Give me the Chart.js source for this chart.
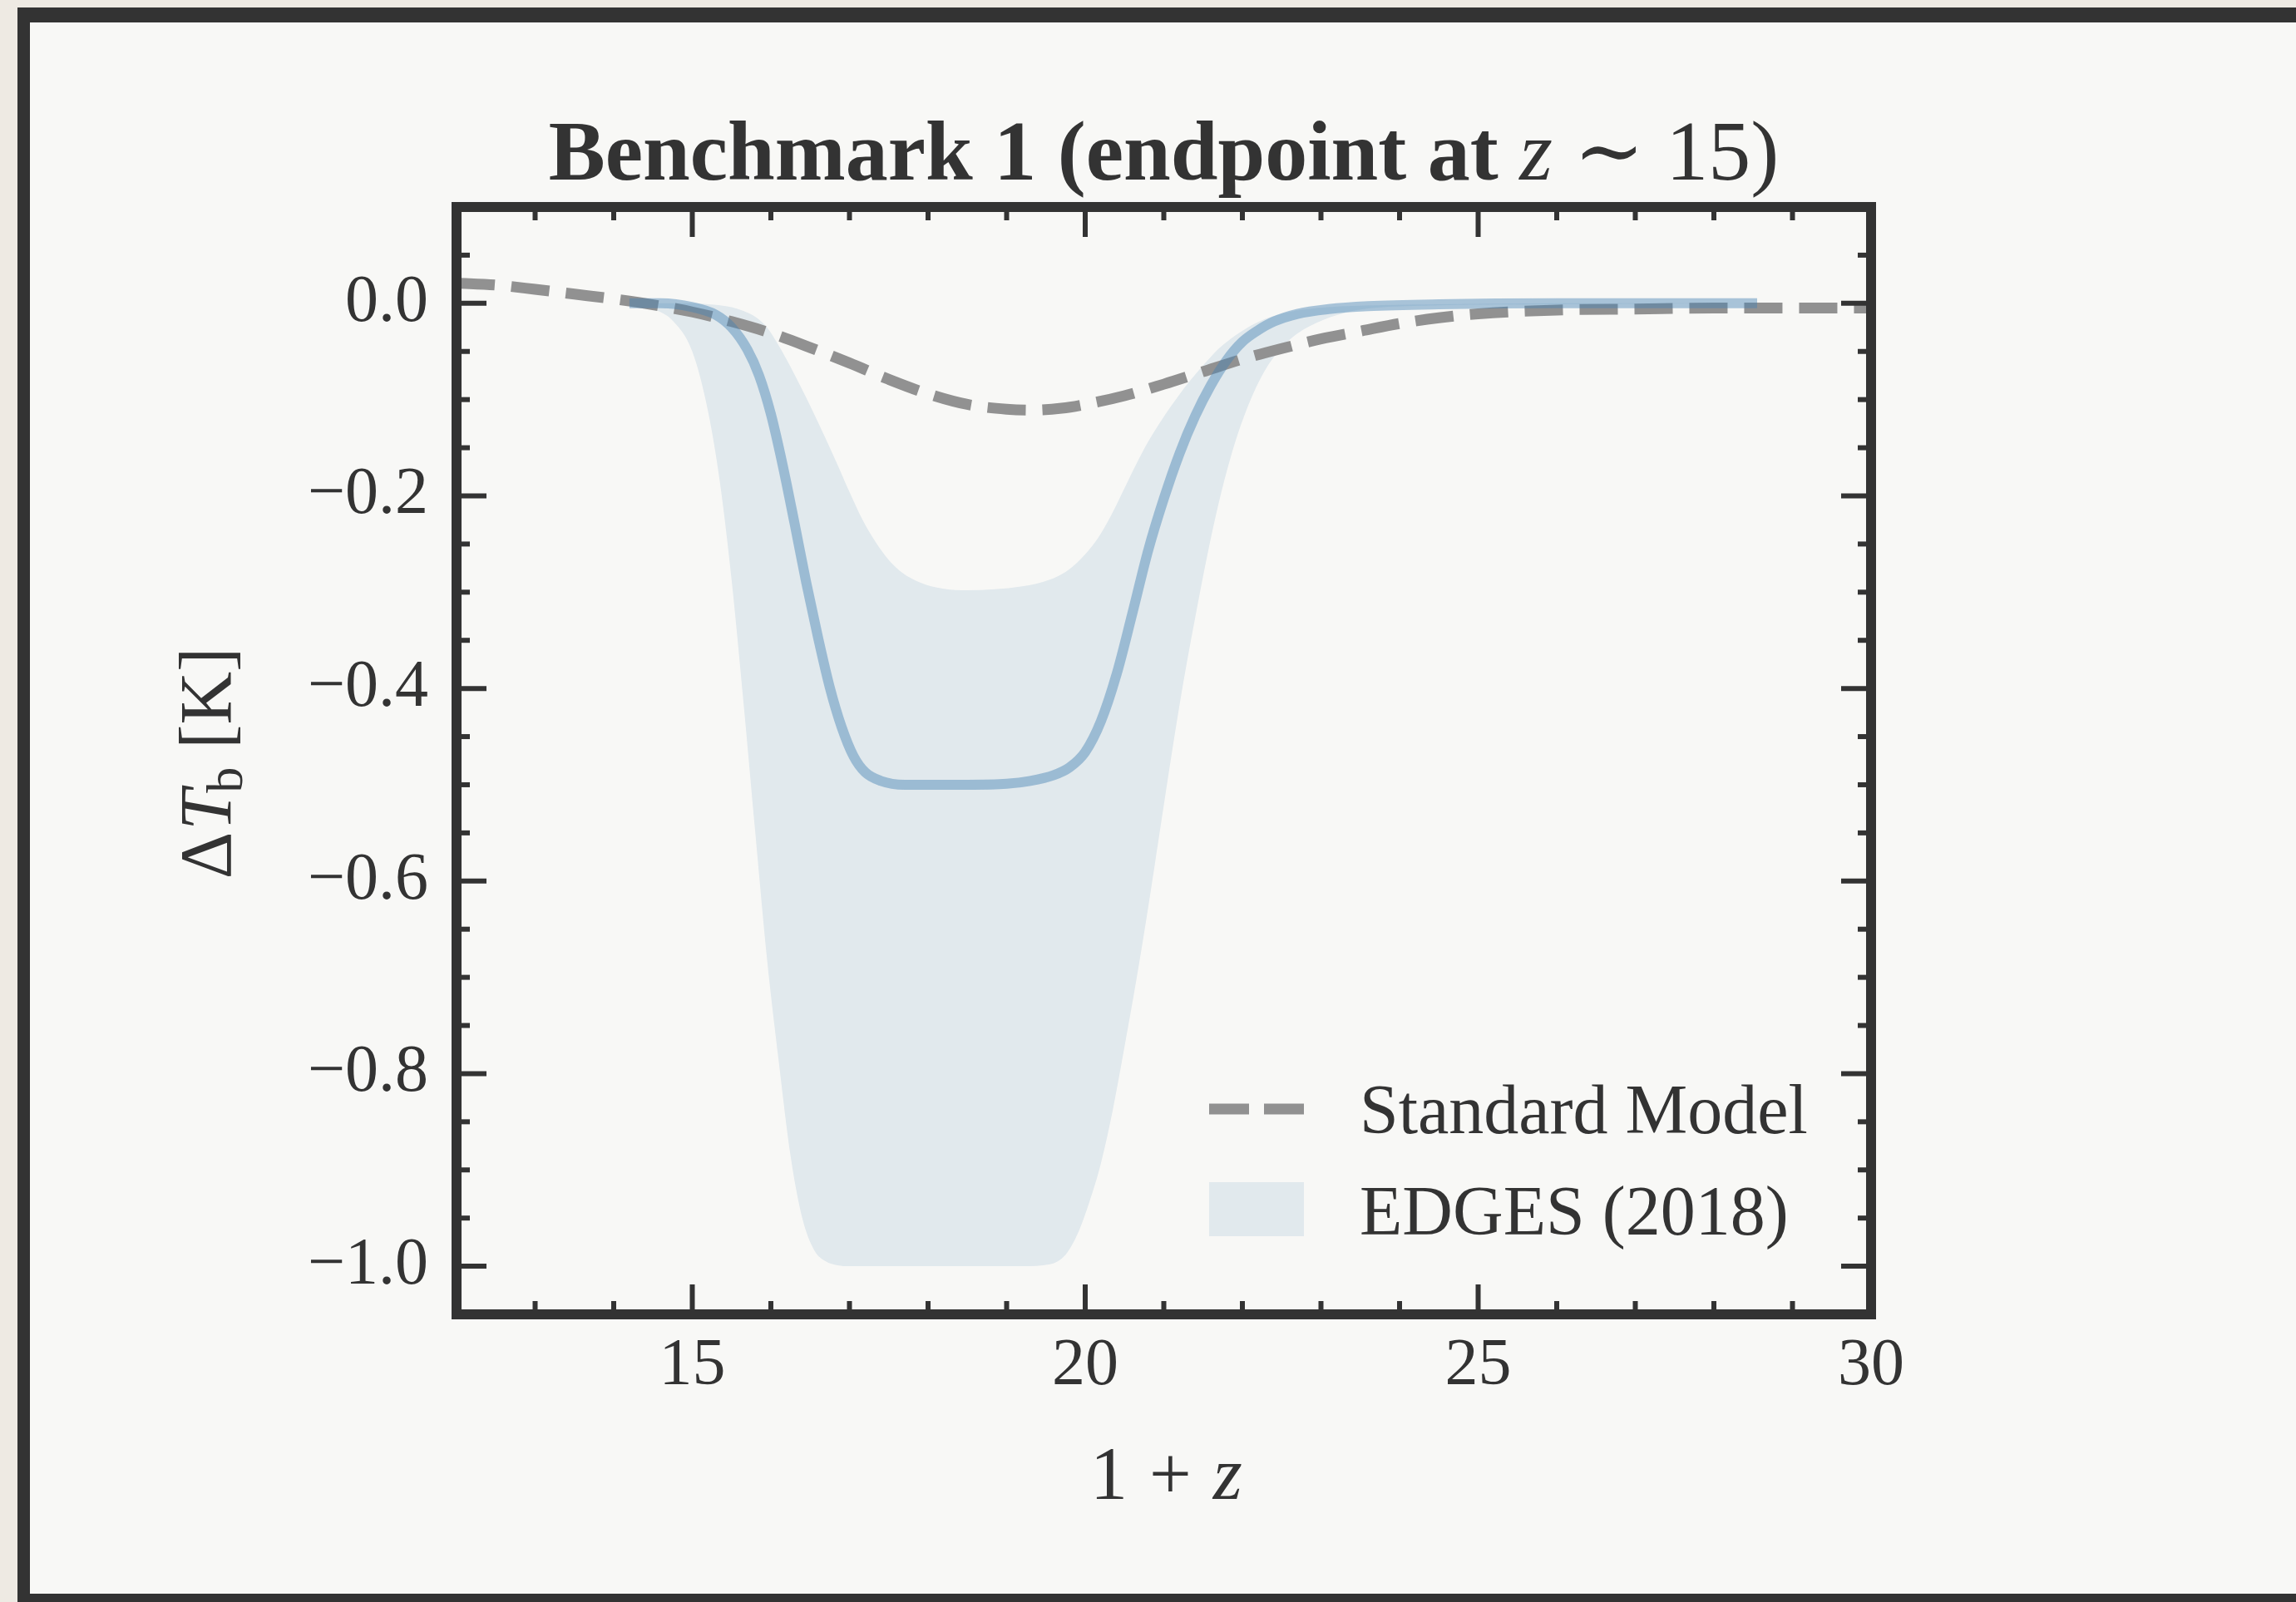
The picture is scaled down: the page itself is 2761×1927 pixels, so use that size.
<!DOCTYPE html>
<html>
<head>
<meta charset="utf-8">
<title>Benchmark 1 (endpoint at z ~ 15)</title>
<script src="https://cdn.jsdelivr.net/npm/chart.js@4.4.1/dist/chart.umd.min.js"></script>
<style>
  html, body { margin:0; padding:0; width:2761px; height:1927px; overflow:hidden; background:#eeeae3; }
  #card { position:absolute; left:21px; top:9px; width:2760px; height:1922px; box-sizing:border-box;
          background:#f8f8f6; border-left:15px solid #333; border-top:18px solid #333; border-bottom:14px solid #333; }
  #c { position:absolute; left:0; top:0; width:2761px; height:1927px; }
</style>
</head>
<body>
<div id="card"></div>
<canvas id="c" width="2761" height="1927"></canvas>
<script>
// ---------- data ----------
const smZ = [12.0, 12.5, 13.0, 13.5, 14.0, 14.5, 15.0, 15.5, 16.0, 16.5, 17.0, 17.5, 18.0, 18.5, 19.0, 19.3, 19.7, 20.0, 20.5, 21.0, 21.5, 22.0, 22.5, 23.0, 23.5, 24.0, 24.5, 25.0, 26.0, 27.0, 28.0, 29.0, 30.0];
const smT = [0.021, 0.019, 0.0145, 0.0095, 0.0045, -0.0015, -0.009, -0.019, -0.031, -0.046, -0.062, -0.079, -0.094, -0.105, -0.110, -0.111, -0.109, -0.105, -0.096, -0.084, -0.071, -0.058, -0.047, -0.037, -0.029, -0.021, -0.015, -0.011, -0.007, -0.006, -0.005, -0.005, -0.005];

const modelZ = [14.2, 14.6, 15.0, 15.3, 15.5, 15.7, 15.85, 16.0, 16.15, 16.3, 16.45, 16.6, 16.75, 16.9, 17.05, 17.2, 17.4, 17.7, 18.5, 19.0, 19.3, 19.6, 19.8, 20.0, 20.2, 20.4, 20.6, 20.8, 21.0, 21.2, 21.4, 21.6, 21.8, 22.0, 22.2, 22.4, 22.7, 23.1, 23.6, 24.5, 26.0, 28.55];
const modelT = [0.0, 0.0, -0.004, -0.012, -0.025, -0.048, -0.075, -0.115, -0.168, -0.228, -0.290, -0.347, -0.399, -0.440, -0.470, -0.487, -0.496, -0.5, -0.5, -0.499, -0.496, -0.490, -0.482, -0.466, -0.434, -0.385, -0.322, -0.257, -0.203, -0.156, -0.117, -0.085, -0.059, -0.040, -0.028, -0.019, -0.011, -0.006, -0.003, -0.001, 0.0, 0.0];

const edgesZ = [14.2, 14.5, 14.75, 15.0, 15.2, 15.35, 15.5, 15.65, 15.8, 15.95, 16.1, 16.25, 16.4, 16.55, 16.7, 16.85, 17.0, 17.2, 17.55, 17.9, 18.5, 19.2, 19.55, 19.75, 19.9, 20.05, 20.2, 20.35, 20.5, 20.65, 20.8, 20.95, 21.1, 21.25, 21.4, 21.55, 21.7, 21.85, 22.05, 22.3, 22.6, 22.95, 23.3, 23.65, 24.5, 26.0, 28.55];
const edgesUpper = [0, 0, 0, 0, -0.001, -0.002, -0.004, -0.008, -0.014, -0.025, -0.044, -0.066, -0.090, -0.115, -0.141, -0.168, -0.196, -0.230, -0.271, -0.290, -0.298, -0.294, -0.287, -0.279, -0.269, -0.256, -0.239, -0.217, -0.192, -0.167, -0.144, -0.124, -0.106, -0.089, -0.074, -0.060, -0.047, -0.037, -0.026, -0.016, -0.009, -0.005, -0.003, -0.002, -0.001, 0, 0];
const edgesLower = [0, -0.006, -0.018, -0.050, -0.112, -0.185, -0.287, -0.413, -0.548, -0.680, -0.787, -0.885, -0.950, -0.983, -0.995, -0.999, -1.0, -1.0, -1.0, -1.0, -1.0, -1.0, -0.998, -0.988, -0.967, -0.934, -0.893, -0.838, -0.772, -0.703, -0.628, -0.548, -0.468, -0.393, -0.326, -0.263, -0.207, -0.160, -0.111, -0.068, -0.038, -0.020, -0.010, -0.005, -0.002, -0.001, 0];

const xRange = [12, 30];
const yRange = [-1.05, 0.1];
const xTickValues = [15, 20, 25, 30];
const xTickLabels = ['15', '20', '25', '30'];
const yTickValues = [0, -0.2, -0.4, -0.6, -0.8, -1.0];
const yTickLabels = ['0.0', '\u22120.2', '\u22120.4', '\u22120.6', '\u22120.8', '\u22121.0'];
const xMinorStep = 1;
const yMinorStep = 0.05;

const titleParts = ['Benchmark 1 (endpoint at ', 'z', ' \u223C 15)'];
const legendLabels = ['Standard Model', 'EDGES (2018)'];

// ---------- styles ----------
const SERIF = '"Liberation Serif", "DejaVu Serif", serif';
const INK = '#333333';
const DASH_COLOR = '#919191';
const LINE_COLOR = 'rgba(70,130,180,0.45)';
const BAND_COLOR = 'rgba(70,130,180,0.13)';
const DASH = [46, 20];

const pts = (xs, ys) => xs.map((x, i) => ({ x: x, y: ys[i] }));

function drawRuns(ctx, runs, x0, baseline, center) {
  const widths = runs.map(r => { ctx.font = r.font; return ctx.measureText(r.text).width + (r.gap || 0); });
  const total = widths.reduce((a, b) => a + b, 0);
  let x = center ? x0 - total / 2 : x0;
  runs.forEach((r, i) => {
    ctx.font = r.font;
    ctx.fillText(r.text, x, baseline + (r.dy || 0));
    x += widths[i];
  });
}

const decor = {
  id: 'decor',
  afterDatasetsDraw(chart) {
    const ctx = chart.ctx, a = chart.chartArea, xs = chart.scales.x, ys = chart.scales.y;
    ctx.save();
    ctx.strokeStyle = INK;
    ctx.lineCap = 'butt';
    const seg = (x1, y1, x2, y2) => { ctx.beginPath(); ctx.moveTo(x1, y1); ctx.lineTo(x2, y2); ctx.stroke(); };
    // minor + major ticks, inward on all four sides
    ctx.lineWidth = 6;
    const nx = Math.round((xRange[1] - xRange[0]) / xMinorStep);
    for (let k = 0; k <= nx; k++) {
      const v = xRange[0] + k * xMinorStep;
      const px = xs.getPixelForValue(v);
      const major = xTickValues.some(t => Math.abs(t - v) < 1e-6);
      const L = major ? 36 : 16;
      seg(px, a.bottom, px, a.bottom - L);
      seg(px, a.top, px, a.top + L);
    }
    const kmin = Math.ceil(yRange[0] / yMinorStep - 1e-6), kmax = Math.floor(yRange[1] / yMinorStep + 1e-6);
    for (let k = kmin; k <= kmax; k++) {
      const v = k * yMinorStep;
      const py = ys.getPixelForValue(v);
      const major = yTickValues.some(t => Math.abs(t - v) < 1e-6);
      const L = major ? 36 : 16;
      seg(a.left, py, a.left + L, py);
      seg(a.right, py, a.right - L, py);
    }
    // frame
    ctx.lineWidth = 12;
    ctx.lineJoin = 'miter';
    ctx.strokeRect(a.left, a.top, a.right - a.left, a.bottom - a.top);

    // legend
    const lx0 = a.left + 905, lx1 = a.left + 1019;
    const ly1 = a.bottom - 247;
    ctx.strokeStyle = DASH_COLOR;
    ctx.lineWidth = 13;
    ctx.setLineDash([48, 18]);
    seg(lx0, ly1, lx1, ly1);
    ctx.setLineDash([]);
    ctx.fillStyle = BAND_COLOR;
    ctx.fillRect(lx0, a.bottom - 159, lx1 - lx0, 65);
    ctx.fillStyle = INK;
    ctx.textAlign = 'left';
    ctx.textBaseline = 'alphabetic';
    ctx.font = '84px ' + SERIF;
    ctx.fillText(legendLabels[0], a.left + 1086, a.bottom - 218);
    ctx.fillText(legendLabels[1], a.left + 1086, a.bottom - 96);
    ctx.restore();
  },
  afterDraw(chart) {
    const ctx = chart.ctx, a = chart.chartArea;
    ctx.save();
    ctx.fillStyle = INK;
    ctx.textAlign = 'left';
    ctx.textBaseline = 'alphabetic';
    const cx = (a.left + a.right) / 2;
    // title
    drawRuns(ctx, [
      { text: titleParts[0], font: 'bold 102px ' + SERIF },
      { text: titleParts[1], font: 'italic 102px ' + SERIF },
      { text: titleParts[2], font: '102px ' + SERIF }
    ], cx, a.top - 33, true);
    // x title: 1 + z
    drawRuns(ctx, [
      { text: '1', font: '90px ' + SERIF, gap: 26 },
      { text: '+', font: '90px ' + SERIF, gap: 26 },
      { text: 'z', font: 'italic 90px ' + SERIF }
    ], cx + 3, a.bottom + 222, true);
    // y title: ΔT_b [K]
    ctx.translate(277, (a.top + a.bottom) / 2 + 3);
    ctx.rotate(-Math.PI / 2);
    drawRuns(ctx, [
      { text: '\u0394', font: '88px ' + SERIF, gap: 2 },
      { text: 'T', font: 'italic 88px ' + SERIF, gap: -4 },
      { text: 'b', font: '62px ' + SERIF, dy: 14, gap: 0 },
      { text: ' [K]', font: '88px ' + SERIF }
    ], 0, 0, true);
    ctx.restore();
  }
};

new Chart(document.getElementById('c'), {
  type: 'line',
  data: {
    datasets: [
      { label: 'Model', data: pts(modelZ, modelT), borderColor: LINE_COLOR, borderWidth: 12,
        pointRadius: 0, fill: false, cubicInterpolationMode: 'monotone' },
      { label: legendLabels[0], data: pts(smZ, smT), borderColor: DASH_COLOR, borderWidth: 13,
        borderDash: DASH, pointRadius: 0, fill: false, cubicInterpolationMode: 'monotone' },
      { label: 'EDGES upper', data: pts(edgesZ, edgesUpper), borderColor: 'rgba(0,0,0,0)', borderWidth: 0,
        pointRadius: 0, fill: false, cubicInterpolationMode: 'monotone' },
      { label: legendLabels[1], data: pts(edgesZ, edgesLower), borderColor: 'rgba(0,0,0,0)', borderWidth: 0,
        pointRadius: 0, fill: '-1', backgroundColor: BAND_COLOR, cubicInterpolationMode: 'monotone' }
    ]
  },
  options: {
    responsive: false,
    devicePixelRatio: 1,
    animation: false,
    layout: { padding: { left: 0, top: 249, right: 511, bottom: 0 } },
    plugins: { legend: { display: false }, title: { display: false }, tooltip: { enabled: false } },
    scales: {
      x: {
        type: 'linear', position: 'bottom', min: xRange[0], max: xRange[1],
        grid: { display: false, drawTicks: false, tickLength: 0 },
        border: { display: false },
        afterBuildTicks: s => { s.ticks = xTickValues.map(v => ({ value: v })); },
        afterFit: s => { s.height = 346; },
        ticks: { autoSkip: false, maxRotation: 0, minRotation: 0, padding: 15, color: INK,
                 font: { family: SERIF, size: 80 },
                 callback: (v, i) => xTickLabels[i] }
      },
      y: {
        type: 'linear', position: 'left', min: yRange[0], max: yRange[1],
        grid: { display: false, drawTicks: false, tickLength: 0 },
        border: { display: false },
        afterBuildTicks: s => { s.ticks = yTickValues.map(v => ({ value: v })); },
        afterFit: s => { s.width = 549; },
        ticks: { autoSkip: false, padding: 34, color: INK,
                 font: { family: SERIF, size: 80 },
                 callback: (v, i) => yTickLabels[i] }
      }
    }
  },
  plugins: [decor]
});
</script>
</body>
</html>
